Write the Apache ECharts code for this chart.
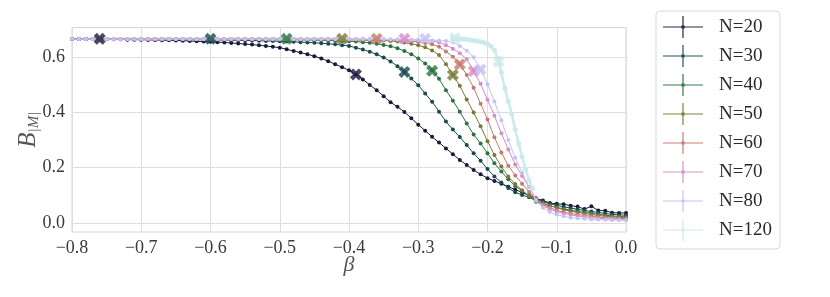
<!DOCTYPE html>
<html>
<head>
<meta charset="utf-8">
<script src="https://cdn.jsdelivr.net/npm/echarts@6/dist/echarts.min.js"></script>
<style>html,body{margin:0;padding:0;background:#fff}#c{width:830px;height:297px}</style>
</head>
<body>
<div id="c"></div>
<script>
var betas = [-0.80,-0.79,-0.78,-0.77,-0.76,-0.75,-0.74,-0.73,-0.72,-0.71,
-0.70,-0.69,-0.68,-0.67,-0.66,-0.65,-0.64,-0.63,-0.62,-0.61,
-0.60,-0.59,-0.58,-0.57,-0.56,-0.55,-0.54,-0.53,-0.52,-0.51,
-0.50,-0.49,-0.48,-0.47,-0.46,-0.45,-0.44,-0.43,-0.42,-0.41,
-0.40,-0.39,-0.38,-0.37,-0.36,-0.35,-0.34,-0.33,-0.32,-0.31,
-0.30,-0.29,-0.28,-0.27,-0.26,-0.25,-0.24,-0.23,-0.22,-0.21,
-0.20,-0.19,-0.18,-0.17,-0.16,-0.15,-0.14,-0.13,-0.12,-0.11,
-0.10,-0.09,-0.08,-0.07,-0.06,-0.05,-0.04,-0.03,-0.02,-0.01,
0.00];

var N20 = [.666,.666,.666,.666,.665,.665,.665,.665,.664,.664,
.664,.663,.663,.662,.662,.661,.660,.659,.658,.657,
.656,.655,.654,.652,.650,.648,.646,.644,.641,.638,
.635,.629,.623,.617,.611,.604,.596,.586,.575,.564,
.553,.538,.520,.500,.481,.459,.437,.421,.402,.379,
.356,.334,.312,.291,.270,.249,.228,.210,.192,.176,
.162,.152,.142,.131,.121,.110,.100,.089,.081,.072,
.069,.068,.062,.059,.050,.060,.045,.044,.037,.036,
.036];

var N30 = [.666,.666,.666,.666,.666,.666,.666,.666,.666,.665,
.665,.665,.665,.665,.665,.665,.664,.664,.664,.664,
.663,.663,.663,.662,.662,.661,.661,.660,.659,.659,
.658,.657,.656,.655,.654,.653,.651,.649,.647,.644,
.641,.635,.628,.620,.611,.599,.585,.568,.547,.523,
.499,.469,.439,.403,.367,.338,.311,.282,.252,.225,
.195,.168,.146,.126,.111,.101,.093,.085,.077,.070,
.064,.058,.054,.049,.045,.041,.038,.034,.031,.029,
.028];

var N40 = [.666,.666,.666,.666,.666,.666,.666,.666,.666,.666,
.666,.666,.666,.666,.666,.666,.666,.666,.666,.666,
.666,.666,.666,.666,.665,.665,.665,.665,.665,.664,
.664,.664,.664,.663,.663,.662,.662,.661,.660,.659,
.658,.657,.655,.653,.649,.645,.640,.633,.623,.611,
.596,.578,.553,.522,.481,.443,.403,.360,.320,.288,
.252,.216,.186,.158,.134,.116,.095,.077,.068,.062,
.056,.051,.046,.042,.038,.035,.031,.028,.025,.023,
.022];

var N50 = [.666,.666,.666,.666,.666,.666,.666,.666,.666,.666,
.666,.666,.666,.666,.666,.666,.666,.666,.666,.666,
.666,.666,.666,.666,.666,.666,.666,.666,.666,.666,
.666,.666,.666,.665,.665,.665,.665,.664,.664,.664,
.663,.663,.662,.662,.661,.661,.659,.657,.654,.649,
.644,.636,.625,.608,.575,.537,.497,.447,.400,.350,
.296,.246,.204,.168,.141,.118,.098,.084,.072,.063,
.055,.048,.042,.038,.034,.030,.027,.024,.022,.020,
.019];

var N60 = [.666,.666,.666,.666,.666,.666,.666,.666,.666,.666,
.666,.666,.666,.666,.666,.666,.666,.666,.666,.666,
.666,.666,.666,.666,.666,.666,.666,.666,.666,.666,
.666,.666,.666,.666,.666,.666,.666,.666,.666,.666,
.665,.665,.665,.664,.664,.663,.663,.662,.660,.658,
.656,.652,.647,.638,.621,.602,.576,.536,.490,.432,
.375,.310,.255,.207,.172,.142,.112,.087,.066,.055,
.046,.039,.034,.030,.027,.024,.021,.019,.017,.016,
.015];

var N70 = [.666,.666,.666,.666,.666,.666,.666,.666,.666,.666,
.666,.666,.666,.666,.666,.666,.666,.666,.666,.666,
.666,.666,.666,.666,.666,.666,.666,.666,.666,.666,
.666,.666,.666,.666,.666,.666,.666,.666,.666,.666,
.666,.666,.665,.665,.665,.665,.664,.664,.663,.663,
.662,.661,.659,.655,.644,.631,.615,.593,.551,.504,
.446,.388,.325,.266,.212,.170,.130,.087,.062,.050,
.041,.034,.029,.025,.022,.019,.017,.015,.014,.013,
.012];

var N80 = [.666,.666,.666,.666,.666,.666,.666,.666,.666,.666,
.666,.666,.666,.666,.666,.666,.666,.666,.666,.666,
.666,.666,.666,.666,.666,.666,.666,.666,.666,.666,
.666,.666,.666,.666,.666,.666,.666,.666,.666,.666,
.666,.666,.666,.666,.665,.665,.665,.665,.665,.664,
.664,.663,.662,.661,.659,.655,.641,.624,.600,.556,
.502,.440,.372,.300,.236,.182,.130,.080,.055,.040,
.030,.024,.019,.017,.015,.013,.012,.011,.010,.010,
.009];

var betas120 = [-0.250,-0.245,-0.240,-0.235,-0.230,-0.225,-0.220,-0.215,-0.210,-0.205,
-0.200,-0.195,-0.190,-0.185,-0.180,-0.175,-0.170,-0.165,-0.160,-0.155,
-0.150,-0.145,-0.140,-0.135];
var N120 = [.668,.668,.667,.666,.665,.663,.661,.659,.656,.653,
.648,.640,.626,.596,.545,.488,.440,.395,.338,.288,
.240,.195,.155,.125];

var seriesNames = ['N=20','N=30','N=40','N=50','N=60','N=70','N=80','N=120'];
var colors = ['#1b1a3b','#1a4a4f','#2a7340','#7a7a36','#c47a6c','#d98cc5','#c6c2f2','#cbeaec'];

var topMarkX = [-0.76,-0.60,-0.49,-0.41,-0.36,-0.32,-0.29,-0.247];
var topMarkY = [0.667,0.667,0.667,0.667,0.667,0.667,0.667,0.669];
var critMarkX = [-0.39,-0.32,-0.28,-0.25,-0.24,-0.22,-0.21,-0.184];
var critMarkY = [0.538,0.547,0.551,0.536,0.574,0.550,0.556,0.585];

var xTicks = [-0.8,-0.7,-0.6,-0.5,-0.4,-0.3,-0.2,-0.1,0.0];
var yTicks = [0.0,0.2,0.4,0.6];

var allY = [N20,N30,N40,N50,N60,N70,N80,N120];
var allX = [betas,betas,betas,betas,betas,betas,betas,betas120];

var XSYM = 'path://M0,2.6L2.6,0L5,2.4L7.4,0L10,2.6L7.6,5L10,7.4L7.4,10L5,7.6L2.6,10L0,7.4L2.4,5Z';
var LEGICON = 'path://M0,10.4H40V11.6H0Z M19.4,0H20.6V22H19.4Z M18.4,9.4H21.6V12.6H18.4Z';

var series = [];
for (var i = 0; i < allY.length; i++) {
  var d = [];
  for (var j = 0; j < allY[i].length; j++) d.push([allX[i][j], allY[i][j]]);
  var big = (i === 7);
  series.push({
    name: seriesNames[i], type: 'line', data: d,
    symbol: 'circle', symbolSize: big ? 5 : 4, showSymbol: true,
    lineStyle: { color: colors[i], width: big ? 2.5 : 1 },
    itemStyle: { color: colors[i] },
    animation: false, z: 2 + i
  });
}
for (var k = 0; k < seriesNames.length; k++) {
  series.push({
    name: seriesNames[k] + ' marks', type: 'scatter',
    data: [[topMarkX[k], topMarkY[k]], [critMarkX[k], critMarkY[k]]],
    symbol: XSYM, symbolSize: 12,
    itemStyle: { color: colors[k] },
    animation: false, z: 20 + k
  });
}

var serif = '"Liberation Serif", "DejaVu Serif", serif';
function fmt(v) {
  var s = (Math.abs(v) < 1e-9 ? 0 : v).toFixed(1);
  return s.replace('-', '\u2212');
}

var chart = echarts.init(document.getElementById('c'), null, { renderer: 'canvas' });
chart.setOption({
  animation: false,
  backgroundColor: '#ffffff',
  grid: { left: 72, right: 204, top: 27.5, bottom: 65, show: true, borderColor: '#d6d6d6', borderWidth: 1, containLabel: false },
  xAxis: {
    type: 'value', min: -0.8, max: 0, interval: 0.1,
    axisLine: { show: false }, axisTick: { show: false },
    splitLine: { show: true, lineStyle: { color: '#dedede', width: 1 } },
    axisLabel: { formatter: fmt, fontFamily: serif, fontSize: 18, color: '#3a3a3a', margin: 7 },
    name: 'β', nameLocation: 'middle', nameGap: 22, nameMoveOverlap: false,
    nameTextStyle: { fontFamily: serif, fontStyle: 'italic', fontSize: 22, color: '#555' }
  },
  yAxis: {
    type: 'value', min: -0.033, max: 0.708,
    axisLine: { show: false },
    axisTick: { show: false, customValues: yTicks },
    splitLine: { show: true, lineStyle: { color: '#dedede', width: 1 } },
    axisLabel: { customValues: yTicks, formatter: fmt, fontFamily: serif, fontSize: 18, color: '#3a3a3a', margin: 7 },
    name: '{b|B}{s||M|}', nameLocation: 'middle', nameGap: 30, nameRotate: 90, nameMoveOverlap: false,
    nameTextStyle: {
      fontFamily: serif, color: '#555',
      rich: {
        b: { fontFamily: serif, fontStyle: 'italic', fontSize: 25, color: '#555' },
        s: { fontFamily: serif, fontStyle: 'italic', fontSize: 15, color: '#555', padding: [12, 0, 0, 0] }
      }
    }
  },
  legend: {
    data: seriesNames, orient: 'vertical', left: 656, top: 11,
    padding: [5, 8, 8, 7], itemGap: 7, itemWidth: 40, itemHeight: 22,
    icon: LEGICON,
    borderColor: '#d9d9d9', borderWidth: 1, borderRadius: 4, backgroundColor: '#fff',
    itemStyle: { opacity: 0.95 },
    textStyle: { fontFamily: serif, fontSize: 19, color: '#2a2a2a', padding: [0, 0, 0, 11], lineHeight: 22 }
  },
  series: series
});
</script>
</body>
</html>
